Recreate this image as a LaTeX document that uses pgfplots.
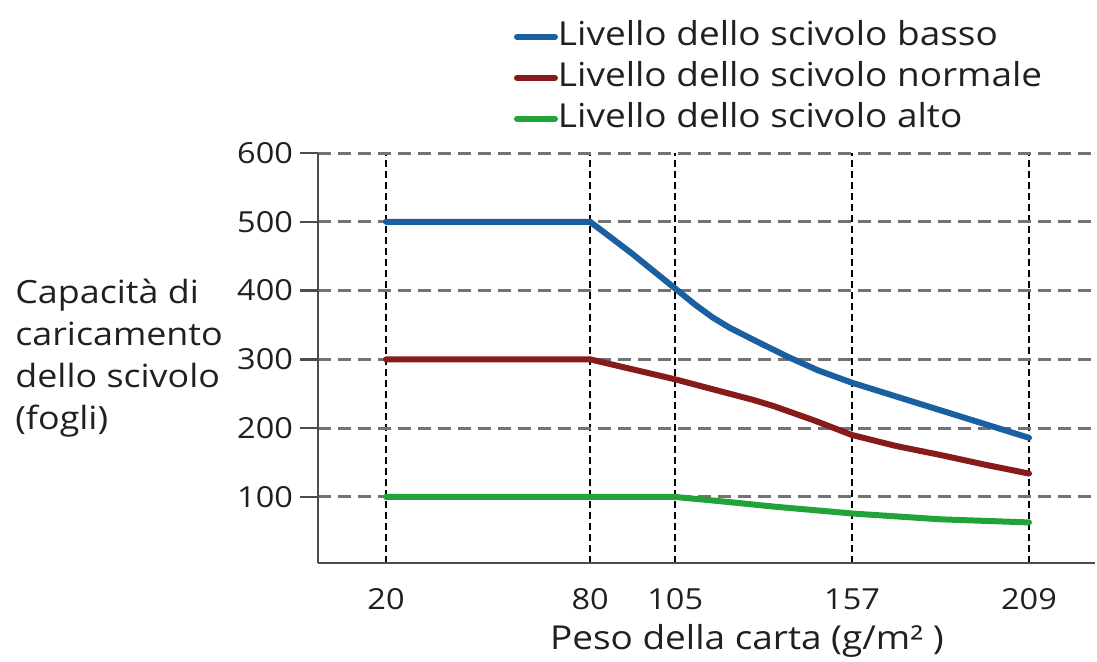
\documentclass[border=0pt]{standalone}
\usepackage{fontspec}
\setmainfont{Open Sans}[FakeStretch=1.12]
\usepackage{pgfplots}
\pgfplotsset{compat=1.18}
\definecolor{cblue}{RGB}{26,95,160}
\definecolor{cred}{RGB}{135,26,26}
\definecolor{cgreen}{RGB}{34,163,58}
\definecolor{ctext}{RGB}{35,31,32}
\begin{document}
\begin{tikzpicture}
\path[use as bounding box] (-159pt,-49pt) rectangle (389.5pt,281.5pt);
\begin{axis}[
  scale only axis, width=388.5pt, height=205pt,
  xmin=0, xmax=228.4, ymin=4, ymax=600,
  axis x line*=bottom, axis y line*=left,
  axis line style={-, draw=black!70, line width=1.2pt},
  xtick={20,80,105,157,209}, ytick={100,200,300,400,500,600},
  xmajorgrids, ymajorgrids,
  x grid style={black, line width=0.9pt, dash pattern=on 3.5pt off 2pt},
  y grid style={black!55, line width=1.5pt, dash pattern=on 6.5pt off 3.5pt},
  xtick style={draw=none},
  ytick style={draw=black!70, line width=1.2pt},
  tick align=outside, major tick length=9pt,
  /pgf/number format/assume math mode=true,
  ticklabel style={font=\fontsize{14.5}{17}\selectfont, text=ctext},
  xticklabel style={anchor=center, yshift=-9pt},
  xlabel={Peso della carta (g/m² )},
  xlabel style={at={(axis description cs:0.552,-0.19)}, anchor=center, font=\fontsize{16.5}{20}\selectfont, text=ctext},
  ylabel={Capacità di\\caricamento\\dello scivolo\\(fogli)},
  ylabel style={rotate=-90, align=left, anchor=west, inner sep=0pt, at={(axis description cs:-0.39,0.5)}, font=\fontsize{16}{21}\selectfont, text=ctext},
  legend style={at={(axis description cs:0.244,1.344)}, anchor=north west, draw=none, fill=none,
    font=\fontsize{16.5}{20.5}\selectfont, text=ctext,
    nodes={inner xsep=0pt, inner ysep=2pt, text height=12.5pt, text depth=4pt}},
  legend cell align=left,
  legend image code/.code={\draw[#1] (0pt,0pt) -- (19pt,0pt);},
  every axis plot/.append style={line width=3pt, line join=round, line cap=round},
]
\addplot[cblue] coordinates {(20,500) (80,500) (92,455) (105,403) (111,379) (116,361) (121,346) (129,326) (138,304) (147,284) (157,266) (183,226) (209,186)};
\addlegendentry{Livello dello scivolo basso}
\addplot[cred] coordinates {(20,300) (80,300) (105,271) (118,254) (128,241) (134,232) (146,211) (157,190) (170,174) (183,161) (196,147) (209,134)};
\addlegendentry{Livello dello scivolo normale}
\addplot[cgreen] coordinates {(20,100) (80,100) (105,100) (120,93) (134,86) (157,76) (183,67.5) (209,63)};
\addlegendentry{Livello dello scivolo alto}
\end{axis}
\end{tikzpicture}
\end{document}
